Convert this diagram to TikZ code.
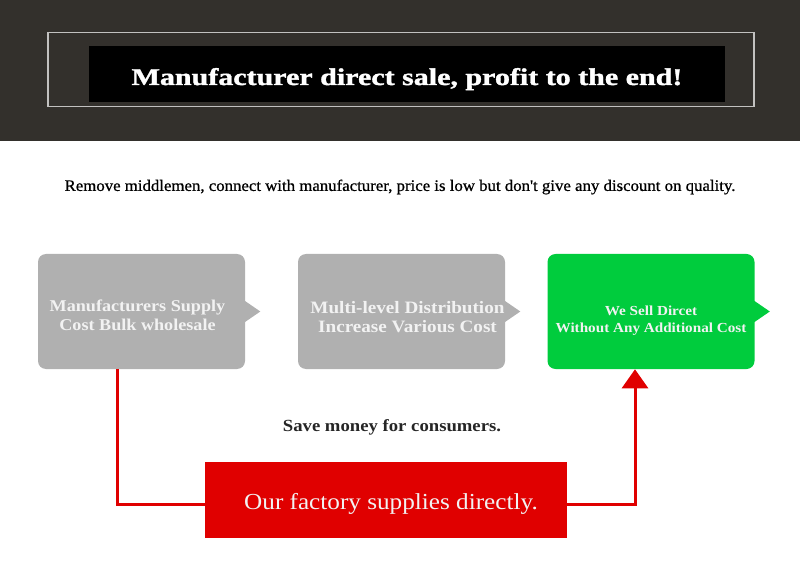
\documentclass[tikz,border=0pt]{standalone}
\usepackage{fontspec}
\setmainfont{Liberation Serif}
\newfontfamily\posterfont[FakeStretch=1.25,FakeBold=1.5]{Liberation Serif}
\newfontfamily\mottofont[FakeStretch=1.05,FakeBold=0.8]{Liberation Serif}
\newfontfamily\bookfont[FakeStretch=1.1]{Liberation Serif}
\usetikzlibrary{arrows.meta}
\definecolor{band}{HTML}{33302C}
\definecolor{greybox}{HTML}{B0B0B0}
\definecolor{greenbox}{HTML}{00CC3D}
\definecolor{factoryred}{HTML}{E00000}
\tikzset{
  callout/.style={rounded corners=8pt,minimum width=207pt,minimum height=115pt,inner sep=0pt},
  callouttext/.style={text=white!95!black,align=center,inner sep=0pt,
    font=\bookfont\bfseries\fontsize{16.5}{19}\selectfont},
  feed/.style={factoryred,line width=3pt},
}
\begin{document}
\begin{tikzpicture}[x=1pt,y=-1pt,semithick]
\useasboundingbox (0,0) rectangle (800,561);
\fill[band] (0,0) rectangle (800,141);
\draw[white!70!band,line width=1.2pt] (48,32.5) rectangle (754,106.5);
\node[fill=black,minimum width=636pt,minimum height=56pt,inner sep=0pt,text=white,
  text height=21pt,text depth=0pt,
  font=\posterfont\bfseries\fontsize{24}{28}\selectfont] (title) at (407,74.5)
  {Manufacturer direct sale, profit to the end!};
\node[font=\mottofont\fontsize{16}{18}\selectfont] (motto) at (400,187)
  {Remove middlemen, connect with manufacturer, price is low but don't give any discount on quality.};

\node[callout,fill=greybox] (mfr) at (141.5,311.5) {};
\node[callout,fill=greybox] (dist) at (401.5,311.5) {};
\node[callout,fill=greenbox] (sell) at (651,311.5) {};
\foreach \b/\c in {mfr/greybox,dist/greybox,sell/greenbox}
  \fill[\c] ([xshift=-1pt,yshift=11pt]\b.east) -- ++(16,11) -- ++(-16,11) -- cycle;
\node[callouttext] (mfrtext) at ([xshift=-4pt,yshift=-3.5pt]mfr.center) {Manufacturers Supply\\Cost Bulk wholesale};
\node[callouttext,font=\bookfont\bfseries\fontsize{17.4}{19}\selectfont] (disttext) at ([xshift=6pt,yshift=-6pt]dist.center)
  {Multi-level Distribution\\Increase Various Cost};
\node[callouttext,font=\bookfont\bfseries\fontsize{13.8}{17}\selectfont] (selltext) at ([yshift=-9pt]sell.center)
  {We Sell Dircet\\Without Any Additional Cost};

\node[font=\bookfont\bfseries\fontsize{17}{20}\selectfont,text=black!85] (save) at (392,427.5) {Save money for consumers.};
\node[fill=factoryred,minimum width=362pt,minimum height=76pt,inner sep=0pt,text=white!95!black,
  text height=19pt,text depth=0pt,
  font=\bookfont\fontsize{22.9}{26}\selectfont] (factory) at (386,500) {\hspace*{10pt}Our factory supplies directly.};

\draw[feed] ([xshift=-24.5pt]mfr.south) |- ([yshift=-4pt]factory.west);
\draw[feed,-{Triangle[width=26pt,length=19pt]}] ([yshift=-4pt]factory.east) -| ([xshift=-16pt]sell.south);
\end{tikzpicture}
\end{document}
